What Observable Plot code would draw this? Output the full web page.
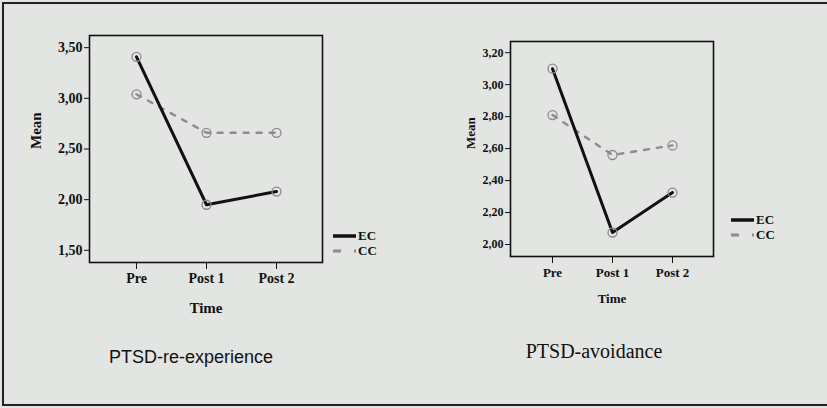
<!DOCTYPE html>
<html><head><meta charset="utf-8">
<script src="https://cdn.jsdelivr.net/npm/d3@7"></script>
<script src="https://cdn.jsdelivr.net/npm/@observablehq/plot@0.6"></script>
<style>
html,body{margin:0;padding:0;background:#e3e5e2;}
#wrap{position:relative;width:827px;height:408px;overflow:hidden;background:#e3e5e2;}
#frame{position:absolute;left:2px;top:2px;width:900px;height:400px;border-left:2px solid #222;border-top:2px solid #222;border-bottom:2px solid #222;}
.chart{position:absolute;top:0;}
.caption{position:absolute;color:#111;transform:translate(-50%,-50%);white-space:nowrap;line-height:1;}
.legend{position:absolute;font-family:"Liberation Serif",serif;font-weight:bold;font-size:13px;color:#111;}
.legend div{display:flex;align-items:center;height:15px;}
.legend svg{margin-right:2px;}
</style></head><body>
<div id="wrap">
  <div id="frame"></div>
  <div id="c1" class="chart" style="left:0px"></div>
  <div id="c2" class="chart" style="left:420px"></div>
  <div class="legend" style="left:333px;top:228px"></div>
  <div class="legend" style="left:731px;top:212px"></div>
  <div class="caption" style="left:191px;top:357px;font-family:'Liberation Sans',Arial,sans-serif;font-size:18px">PTSD-re-experience</div>
  <div class="caption" style="left:594px;top:351px;font-family:'Liberation Serif',serif;font-size:20px">PTSD-avoidance</div>
</div>
<script>
const times = ["Pre", "Post 1", "Post 2"];
const groups = ["EC", "CC"];
const reExpEC = [3.41, 1.95, 2.08];
const reExpCC = [3.04, 2.66, 2.66];
const avoidEC = [3.10, 2.075, 2.325];
const avoidCC = [2.81, 2.56, 2.62];
const reExpTicks = [1.5, 2.0, 2.5, 3.0, 3.5];
const avoidTicks = [2.0, 2.2, 2.4, 2.6, 2.8, 3.0, 3.2];

const rows = (vals, g) => times.map((t, i) => ({time: t, value: vals[i], group: g}));
const fmt = d => d.toFixed(2).replace(".", ",");

function makeChart(ec, cc, ticks, cfg) {
  const ecRows = rows(ec, groups[0]);
  const ccRows = rows(cc, groups[1]);
  return Plot.plot({
    width: cfg.width, height: cfg.height,
    marginLeft: cfg.ml, marginRight: cfg.mr, marginTop: cfg.mt, marginBottom: cfg.mb,
    style: {background: "transparent", fontFamily: "Liberation Serif, serif", fontWeight: "bold", color: "#111"},
    x: {type: "point", domain: times, padding: cfg.pad},
    y: {domain: cfg.ydom},
    marks: [
      Plot.frame({stroke: "#111", strokeWidth: 1.6}),
      Plot.line(ccRows, {x: "time", y: "value", stroke: "#8c8c8c", strokeWidth: 2.4, strokeDasharray: "5,8"}),
      Plot.line(ecRows, {x: "time", y: "value", stroke: "#111", strokeWidth: 3}),
      Plot.dot(ecRows.concat(ccRows), {x: "time", y: "value", r: 4.5, stroke: "#8a8a8a", strokeWidth: 1.3, fill: "none"}),
      Plot.axisY({ticks, tickFormat: fmt, tickSize: 5, tickPadding: 2, label: null, fontSize: cfg.fsy, fontWeight: "bold"}),
      Plot.axisX({tickSize: 7, tickPadding: 4, label: null, fontSize: cfg.fsx, fontWeight: "bold"}),
      Plot.text(["Mean"], {frameAnchor: "left", dx: -cfg.meanOff, rotate: -90, fontSize: cfg.fsl, fontWeight: "bold", fill: "#111"}),
      Plot.text(["Time"], {frameAnchor: "bottom", dy: cfg.timeOff, fontSize: cfg.fst, fontWeight: "bold", fill: "#111"})
    ]
  });
}

document.getElementById("c1").append(makeChart(reExpEC, reExpCC, reExpTicks,
  {width: 420, height: 330, ml: 89, mr: 98, mt: 35, mb: 68, pad: 0.66, ydom: [1.38, 3.62],
   fsy: 14, fsx: 14, fsl: 15, fst: 15, meanOff: 53, timeOff: 50}));
document.getElementById("c2").append(makeChart(avoidEC, avoidCC, avoidTicks,
  {width: 407, height: 330, ml: 90, mr: 114, mt: 41, mb: 74, pad: 0.68, ydom: [1.925, 3.27],
   fsy: 12, fsx: 13, fsl: 13, fst: 13, meanOff: 40, timeOff: 46}));

document.querySelectorAll(".legend").forEach(el => {
  groups.forEach((g, i) => {
    const row = document.createElement("div");
    const line = i === 0
      ? `<line x1="0" x2="23" y1="3" y2="3" stroke="#111" stroke-width="3.5"/>`
      : `<line x1="0" x2="23" y1="3" y2="3" stroke="#8c8c8c" stroke-width="3" stroke-dasharray="8,13"/>`;
    row.innerHTML = `<svg width="23" height="6">${line}</svg><span>${g}</span>`;
    el.append(row);
  });
});
</script>
</body></html>
